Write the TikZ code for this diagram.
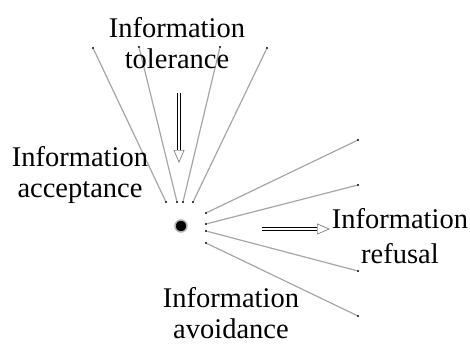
\documentclass[tikz,border=0pt]{standalone}
\usepackage{fontspec}
\setmainfont{Liberation Serif}
\usetikzlibrary{arrows.meta}

\tikzset{
  label/.style={align=center, inner sep=0pt, anchor=base,
    font=\fontsize{28.5}{31}\selectfont},
  tip/.style={circle, fill=black, inner sep=0pt, minimum size=2.2pt},
  ray/.style={gray!70, line width=1.2pt},
  dblarrow/.style={double, double distance=1.8pt, line width=1pt,
    -{Triangle[open, length=13pt, width=11pt, line width=0.7pt, color=gray]}}
}

\begin{document}
\begin{tikzpicture}[x=1pt, y=-1pt]
\useasboundingbox (0,0) rectangle (470,345);

% the source point
\node[circle, fill=black, draw=gray!60, line width=1.5pt, minimum size=12pt, inner sep=0pt] (src) at (181,226) {};

% rays up
\foreach \n/\a/\b/\c/\d in {1/166/202/93/48, 2/177/202/139/47, 3/183/202/220/47, 4/193/202/267/48} {
  \node[tip] (u\n) at (\a,\b) {};
  \node[tip] (U\n) at (\c,\d) {};
  \draw[ray] (u\n) -- (U\n);
}
% rays right
\foreach \n/\b/\d in {1/213/140, 2/224/185, 3/231/271, 4/243/316} {
  \node[tip] (r\n) at (206,\b) {};
  \node[tip] (R\n) at (358,\d) {};
  \draw[ray] (r\n) -- (R\n);
}

% labels (base = last line)
\node[label] (tol) at (177,68) {Information\\tolerance};
\node[label] (acc) at (80,197) {Information\\acceptance};
\node[label] (ref) at (400,263) {Information\\[4pt]refusal};
\node[label] (avo) at (231,338) {Information\\avoidance};

% arrows
\coordinate (dtop) at (179,93);
\coordinate (dend) at (179,163);
\coordinate (rbeg) at (262,229);
\coordinate (rend) at (330,229);
\draw[dblarrow] (dtop) -- (dend);
\draw[dblarrow] (rbeg) -- (rend);
\end{tikzpicture}
\end{document}
